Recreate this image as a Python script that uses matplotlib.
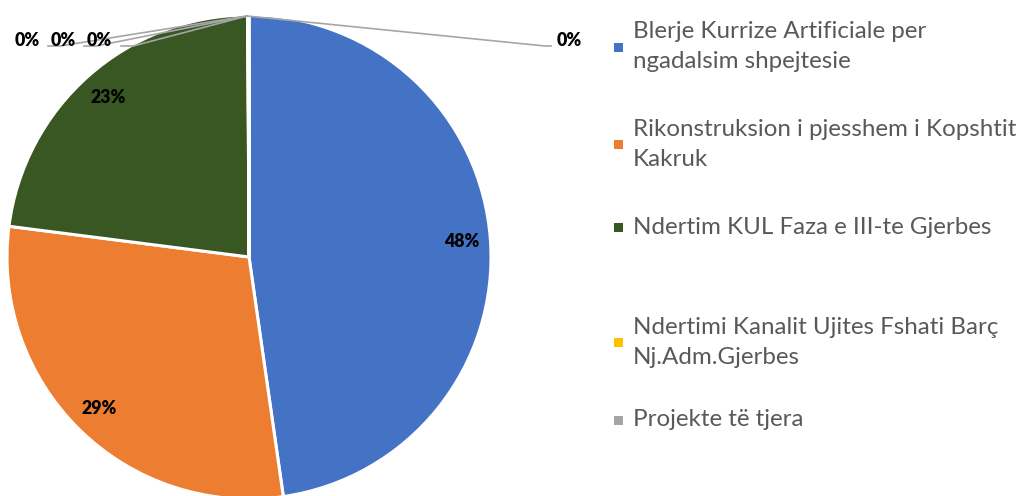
import matplotlib
matplotlib.use("Agg")
import matplotlib.pyplot as plt
from matplotlib.patches import Rectangle

# ---- data ----
categories = [
    "Blerje Kurrize Artificiale per\nngadalsim shpejtesie",
    "Rikonstruksion i pjesshem i Kopshtit\nKakruk",
    "Ndertim KUL Faza e III-te Gjerbes",
    "Ndertimi Kanalit Ujites Fshati Barç\nNj.Adm.Gjerbes",
    "Projekte të tjera",
]
values = [47.75, 29.3, 22.9, 0.02, 0.02, 0.02, 0.02]
colors = ["#4472C4", "#ED7D31", "#385723", "#FFC000", "#A5A5A5", "#264478", "#9E480E"]

W, H = 1026, 496
fig = plt.figure(figsize=(W / 100, H / 100), dpi=100)
ax = fig.add_axes([0, 0, 1, 1])

cx, cy, r = 249, H - 257, 242

def pct(p):
    return f"{p:.0f}%" if p >= 1 else ""

wedges, texts, autotexts = ax.pie(
    values, colors=colors, startangle=90, counterclock=False,
    center=(cx, cy), radius=r, autopct=pct, pctdistance=0.88,
    wedgeprops=dict(edgecolor="white", linewidth=2.2),
    textprops=dict(fontsize=12.8, fontweight="heavy", color="black", family="Lato"),
)

ax.set_xlim(0, W)
ax.set_ylim(0, H)
ax.set_aspect("equal")
ax.axis("off")

# zero labels with leader lines
lc = "#A6A6A6"
top = (cx - 2, H - 16)
zero_left = [(27, 48), (63, 84), (99, 121)]
for (lx, endx) in zero_left:
    ax.plot([top[0], endx + 12, endx], [top[1], H - 46, H - 46], color=lc, lw=1.2)
    ax.text(lx, H - 40, "0%", ha="center", va="center", fontsize=12.8,
            fontweight="heavy", family="Lato")
ax.plot([top[0], 545, 551], [top[1], H - 46, H - 46], color=lc, lw=1.2)
ax.text(569, H - 40, "0%", ha="center", va="center", fontsize=12.8,
        fontweight="heavy", family="Lato")

# legend
leg_y = [47, 144, 227, 342, 420]
tc = "#595959"
for name, col, y in zip(categories, colors, leg_y):
    lines = name.split("\n")
    ax.add_patch(Rectangle((614, H - y - 5), 9, 9, color=col, lw=0))
    for i, line in enumerate(lines):
        yy = y - 15 * (len(lines) - 1) + 30 * i
        ax.text(633, H - yy, line, ha="left", va="center", fontsize=17.4,
                color=tc, family="Lato")

fig.savefig("out.png", dpi=100)
